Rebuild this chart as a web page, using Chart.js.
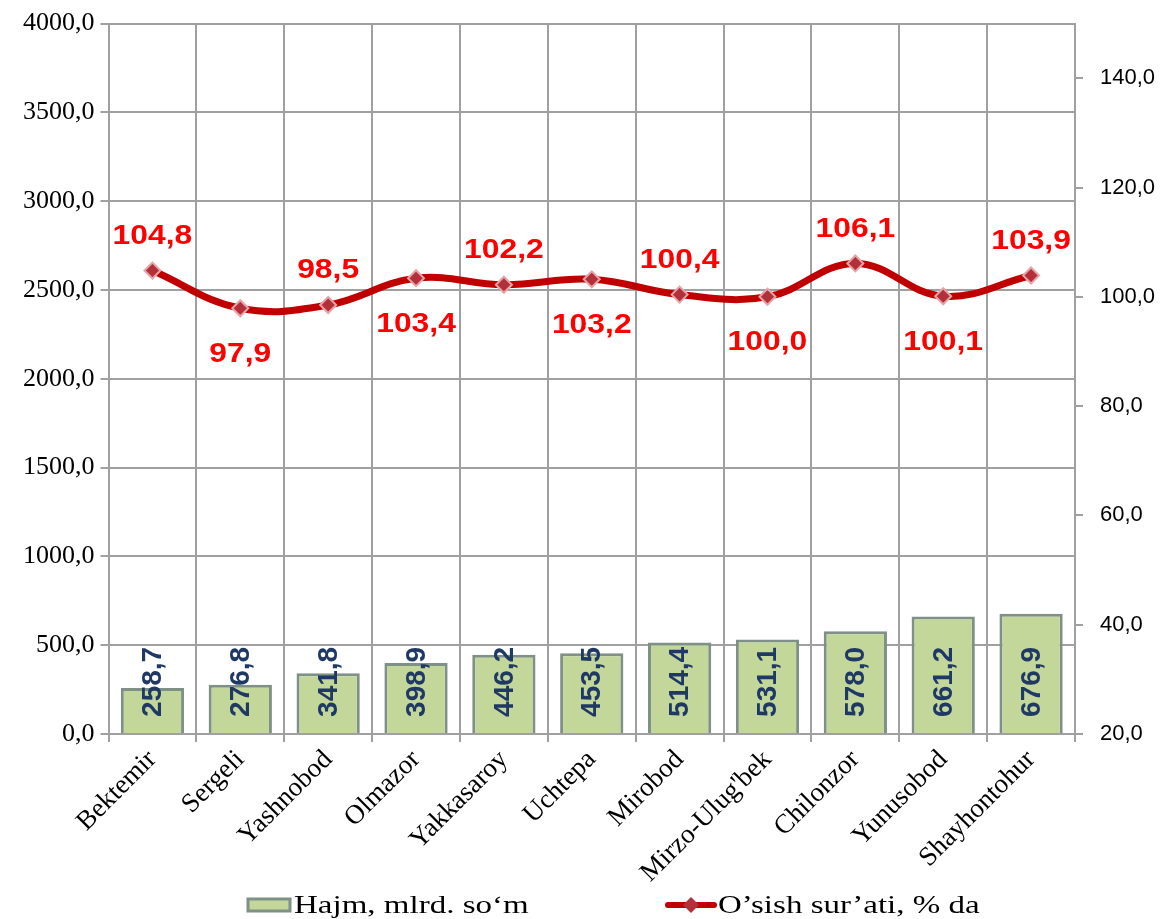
<!DOCTYPE html>
<html>
<head>
<meta charset="utf-8">
<script src="https://cdn.jsdelivr.net/npm/chart.js@4"></script>
<style>
  html, body { margin: 0; padding: 0; background: #fff; }
  canvas { display: block; }
</style>
</head>
<body>
<canvas id="chart" width="1163" height="919"></canvas>
<script>
// districts of Tashkent
const districts = ['Bektemir', 'Sergeli', 'Yashnobod', 'Olmazor', 'Yakkasaroy', 'Uchtepa',
  'Mirobod', "Mirzo-Ulug'bek", 'Chilonzor', 'Yunusobod', 'Shayhontohur'];

// volume, bln. sum
const volume = [258.7, 276.8, 341.8, 398.9, 446.2, 453.5, 514.4, 531.1, 578.0, 661.2, 676.9];

// growth rate, %
const growth = [104.8, 97.9, 98.5, 103.4, 102.2, 103.2, 100.4, 100.0, 106.1, 100.1, 103.9];

// where each growth label sits relative to its point
const growthLabelSide = ['up', 'down', 'up', 'down', 'up', 'down', 'up', 'down', 'up', 'down', 'up'];

const seriesNames = ['Hajm, mlrd. so\u2018m', 'O\u2019sish sur\u2019ati, % da'];

const fmt = v => v.toFixed(1).replace('.', ',');

const barFill = '#c4d79b';
const barEdge = '#7f9187';
const lineRed = '#c00000';
const gridGray = '#a0a0a0';

// value labels for both series
const valueLabels = {
  id: 'valueLabels',
  afterDatasetsDraw(chart) {
    const ctx = chart.ctx;
    ctx.save();

    const bars = chart.getDatasetMeta(0).data;
    ctx.fillStyle = '#1f3864';
    ctx.font = 'bold 28px "Liberation Sans", Arial, sans-serif';
    ctx.textAlign = 'left';
    ctx.textBaseline = 'middle';
    bars.forEach((el, i) => {
      ctx.save();
      ctx.translate(el.x + 1, el.base - 16);
      ctx.rotate(-Math.PI / 2);
      ctx.fillText(fmt(volume[i]), 0, 0);
      ctx.restore();
    });

    const pts = chart.getDatasetMeta(1).data;
    ctx.fillStyle = '#ff0000';
    ctx.font = 'bold 27px "Liberation Sans", Arial, sans-serif';
    ctx.textAlign = 'center';
    pts.forEach((el, i) => {
      const dy = growthLabelSide[i] === 'up' ? -34 : 46;
      ctx.save();
      ctx.translate(el.x, el.y + dy);
      ctx.scale(1.18, 1);
      ctx.fillText(fmt(growth[i]), 0, 0);
      ctx.restore();
    });
    ctx.restore();
  }
};

// legend drawn by hand below the axis labels
const bottomLegend = {
  id: 'bottomLegend',
  afterDraw(chart) {
    const ctx = chart.ctx;
    const y = 905;
    ctx.save();
    // bar swatch
    ctx.fillStyle = barFill;
    ctx.strokeStyle = barEdge;
    ctx.lineWidth = 3;
    ctx.fillRect(248, y - 6, 42, 12);
    ctx.strokeRect(248, y - 6, 42, 12);
    // line swatch
    ctx.strokeStyle = lineRed;
    ctx.lineWidth = 6;
    ctx.lineCap = 'round';
    ctx.beginPath();
    ctx.moveTo(668, y);
    ctx.lineTo(714, y);
    ctx.stroke();
    ctx.fillStyle = '#b3303a';
    ctx.beginPath();
    ctx.moveTo(691, y - 8);
    ctx.lineTo(699, y);
    ctx.lineTo(691, y + 8);
    ctx.lineTo(683, y);
    ctx.closePath();
    ctx.fill();
    // texts
    ctx.fillStyle = '#000';
    ctx.font = '26px "Liberation Serif", "Times New Roman", serif';
    ctx.textAlign = 'left';
    ctx.textBaseline = 'middle';
    [[seriesNames[0], 294], [seriesNames[1], 718]].forEach(([t, x]) => {
      ctx.save();
      ctx.translate(x, y + 1);
      ctx.scale(1.27, 1);
      ctx.fillText(t, 0, 0);
      ctx.restore();
    });
    ctx.restore();
  }
};

new Chart(document.getElementById('chart'), {
  data: {
    labels: districts,
    datasets: [
      {
        type: 'bar',
        label: seriesNames[0],
        data: volume,
        yAxisID: 'y',
        backgroundColor: barFill,
        borderColor: barEdge,
        borderWidth: 3,
        barPercentage: 0.72,
        categoryPercentage: 1,
        order: 2
      },
      {
        type: 'line',
        label: seriesNames[1],
        data: growth,
        yAxisID: 'y1',
        borderColor: lineRed,
        borderWidth: 7,
        tension: 0.4,
        pointStyle: 'rectRot',
        pointRadius: 8,
        pointBackgroundColor: '#b3303a',
        pointBorderColor: '#e6a3a8',
        pointBorderWidth: 2,
        order: 1
      }
    ]
  },
  plugins: [valueLabels, bottomLegend],
  options: {
    responsive: false,
    animation: false,
    layout: { padding: { top: 0, right: 0, left: 17, bottom: 28 } },
    plugins: {
      legend: { display: false },
      tooltip: { enabled: false }
    },
    scales: {
      x: {
        offset: true,
        grid: { offset: true, color: gridGray, lineWidth: 2, tickLength: 8 },
        border: { color: gridGray, width: 2 },
        ticks: {
          color: '#000',
          maxRotation: 45,
          minRotation: 45,
          padding: 2,
          font: { family: '"Liberation Serif", "Times New Roman", serif', size: 27 }
        }
      },
      y: {
        position: 'left',
        min: 0,
        max: 4000,
        grid: { color: gridGray, lineWidth: 2, tickLength: 8 },
        border: { color: gridGray, width: 2 },
        ticks: {
          stepSize: 500,
          color: '#000',
          padding: 6,
          font: { family: '"Liberation Serif", "Times New Roman", serif', size: 26, lineHeight: 0.6 },
          callback: v => fmt(v)
        }
      },
      y1: {
        position: 'right',
        min: 20,
        max: 150,
        afterBuildTicks: scale => {
          scale.ticks = scale.ticks.filter(t => t.value % 20 === 0);
        },
        afterFit: scale => { scale.width = 88; },
        grid: { drawOnChartArea: false, color: gridGray, lineWidth: 2, tickLength: 8 },
        border: { color: gridGray, width: 2 },
        ticks: {
          stepSize: 20,
          color: '#000',
          padding: 17,
          font: { family: '"Liberation Sans", Arial, sans-serif', size: 22, lineHeight: 0.6 },
          callback: v => fmt(v)
        }
      }
    }
  }
});
</script>
</body>
</html>
